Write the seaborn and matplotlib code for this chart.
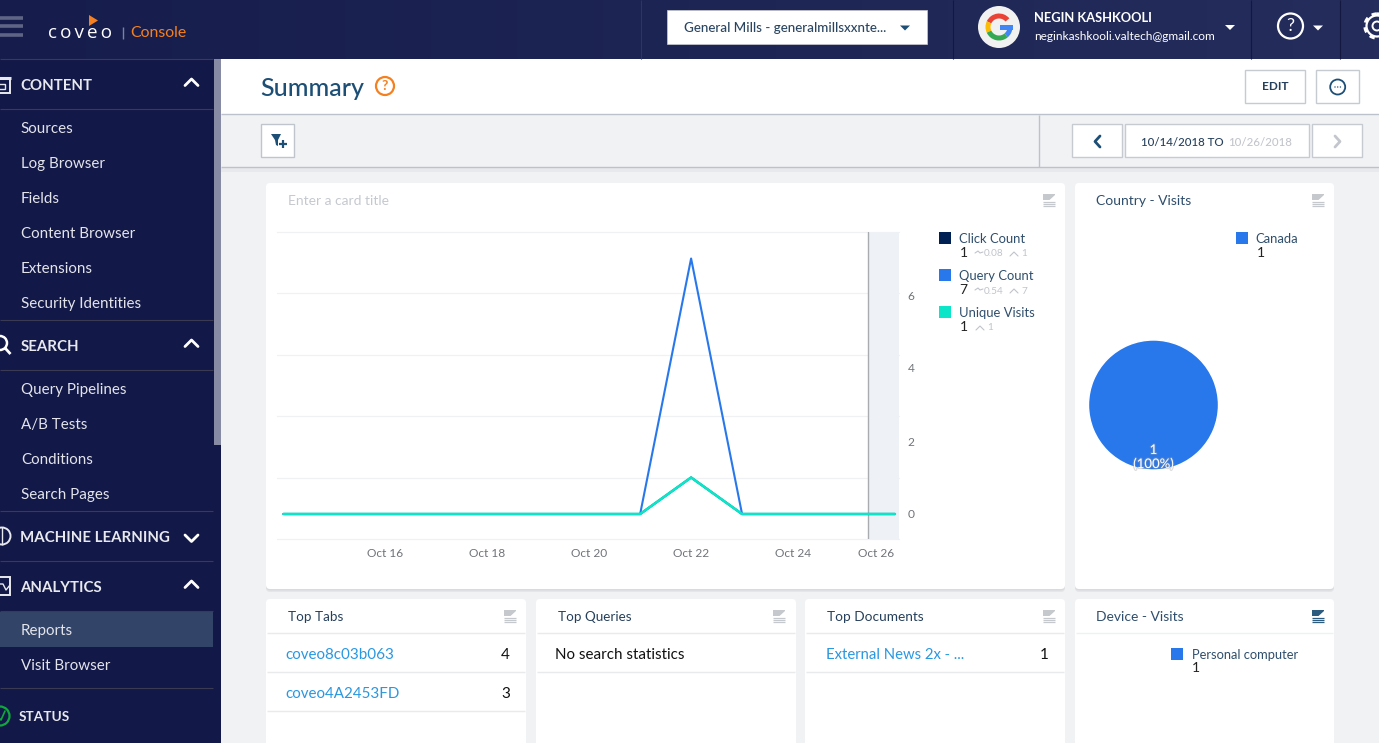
import matplotlib
matplotlib.use('Agg')
import matplotlib.pyplot as plt
import matplotlib.dates as mdates
import matplotlib.patheffects as pe
import numpy as np
import pandas as pd
import seaborn as sns
from matplotlib.patches import Rectangle, FancyBboxPatch, Circle, Wedge, Polygon

# chart data
dates = pd.date_range('2018-10-14', '2018-10-26', freq='D')
click_count = [0, 0, 0, 0, 0, 0, 0, 0, 1, 0, 0, 0, 0]
query_count = [0, 0, 0, 0, 0, 0, 0, 0, 7, 0, 0, 0, 0]
unique_visits = [0, 0, 0, 0, 0, 0, 0, 0, 1, 0, 0, 0, 0]
y_ticks = [0, 2, 4, 6]
x_tick_dates = ['2018-10-16', '2018-10-18', '2018-10-20', '2018-10-22', '2018-10-24', '2018-10-25 15:00']
x_tick_labels = ['Oct 16', 'Oct 18', 'Oct 20', 'Oct 22', 'Oct 24', 'Oct 26']
country_visits = [1]

# page text
content_items = ['Sources', 'Log Browser', 'Fields', 'Content Browser', 'Extensions', 'Security Identities']
search_items = ['Query Pipelines', 'A/B Tests', 'Conditions', 'Search Pages']
analytics_items = ['Reports', 'Visit Browser']

NAVY = '#121848'
BLUE = '#2878ec'
TEAL = '#0ce5c8'
DARK = '#001f52'
TITLE = '#1d4f76'
LINK = '#2a97e0'
ORANGE = '#f58020'

sns.set_theme(style='white')
plt.rcParams['font.family'] = ['Lato', 'DejaVu Sans']

fig = plt.figure(figsize=(13.79, 7.43), dpi=100, facecolor='#f1f2f4')
page = fig.add_axes([0, 0, 1, 1])
page.set_xlim(0, 1379)
page.set_ylim(743, 0)
page.axis('off')


def txt(x, y, s, size=11, color='#26405c', **kw):
    kw.setdefault('va', 'center')
    page.text(x, y + 1, s, fontsize=size, color=color, **kw)


def box(x0, y0, x1, y1, color, edge='none', lw=0, z=1):
    page.add_patch(Rectangle((x0, y0), x1 - x0, y1 - y0, facecolor=color, edgecolor=edge, lw=lw, zorder=z))


def seg(x0, y0, x1, y1, color, lw=1, z=3):
    page.plot([x0, x1], [y0, y1], color=color, lw=lw, zorder=z, solid_capstyle='butt')


def chevron(x, y, w, h, color, lw=2):
    page.plot([x - w, x, x + w], [y + h, y, y + h], color=color, lw=lw, zorder=4)


def card(x0, y0, x1, y1):
    for off, col in [(3, '#e4e6e9'), (1.5, '#d8dade')]:
        page.add_patch(FancyBboxPatch((x0, y0 + off), x1 - x0, y1 - y0, boxstyle='round,pad=0,rounding_size=4',
                                      fc=col, ec='none', zorder=1))
    page.add_patch(FancyBboxPatch((x0, y0), x1 - x0, y1 - y0, boxstyle='round,pad=0,rounding_size=4',
                                  fc='white', ec='none', zorder=1.2))


def chart_icon(x, y, color='#c5c8cd'):
    box(x, y, x + 12, y + 6, color, z=3)
    page.add_patch(Polygon([(x + 6, y + 6.5), (x + 12, y + 1), (x + 12, y + 6.5)], fc='white', ec='none', zorder=3.2))
    for dy in [7.5, 9.5, 11.5]:
        seg(x, y + dy, x + 12, y + dy, color, lw=0.9)


def triangle(x, y, w, h, color):
    page.add_patch(Polygon([(x - w, y), (x + w, y), (x, y + h)], fc=color, ec='none', zorder=4))


# header band, lighter to the right
grad = np.linspace(0, 1, 256).reshape(1, -1)
cmap = matplotlib.colors.LinearSegmentedColormap.from_list('hdr', ['#161d4c', '#242d5c'])
page.imshow(grad, extent=(0, 1379, 59, 0), cmap=cmap, aspect='auto', zorder=0.5)
page.set_xlim(0, 1379)
page.set_ylim(743, 0)

# sidebar
box(0, 59, 221, 743, NAVY, z=1)
box(214, 59, 221, 445, '#878ba3', z=2)
box(0, 612, 213, 647, '#324468', z=2)
for ly in [59, 109, 320, 370, 511, 561, 611, 688]:
    seg(0, ly, 213, ly, '#3a3b52', lw=0.8)
txt(20.5, 85, 'CONTENT', 10.8, '#e8e9ee', fontweight='bold')
txt(20.5, 346, 'SEARCH', 10.8, '#e8e9ee', fontweight='bold')
txt(20.5, 537, 'MACHINE LEARNING', 10.8, '#e8e9ee', fontweight='bold')
txt(20.5, 587, 'ANALYTICS', 10.8, '#e8e9ee', fontweight='bold')
txt(18.5, 716, 'STATUS', 9.8, '#e8e9ee', fontweight='bold')
for i, s in enumerate(content_items):
    txt(20.8, 128 + i * 35, s, 10.9, '#e3e4ea')
for i, s in enumerate(search_items):
    txt(20.8, 389 + i * 35, s, 10.9, '#e3e4ea')
for i, s in enumerate(analytics_items):
    txt(20.8, 629.5 + i * 35, s, 10.9, '#e3e4ea')
chevron(191.5, 79, 6.5, 6.5, 'white')
chevron(191.5, 340, 6.5, 6.5, 'white')
chevron(191.5, 581, 6.5, 6.5, 'white')
page.plot([185, 191.5, 198], [535, 541.5, 535], color='white', lw=2, zorder=4)

# sidebar icons, cut by the left edge
box(-3, 78, 10, 93, 'none', edge='#e8e9ee', lw=1.4, z=4)
seg(-3, 78, 11, 78, '#e8e9ee', lw=2.2)
box(-3, 84, 5, 89, 'none', edge='#e8e9ee', lw=1, z=4)
page.add_patch(Circle((0, 343), 7, fc='none', ec='white', lw=1.8, zorder=4))
seg(5, 348, 10.5, 354, 'white', lw=2)
page.add_patch(Circle((2, 536), 8.5, fc='none', ec='#e8e9ee', lw=1.4, zorder=4))
seg(2, 527, 2, 545, '#e8e9ee', lw=1)
box(-3, 577, 10, 595, 'none', edge='#e8e9ee', lw=1.4, z=4)
page.plot([-1, 3, 6, 10], [584, 584, 590, 585], color='#e8e9ee', lw=1, zorder=4)
page.add_patch(Circle((0, 716), 9.5, fc='none', ec='#10a83c', lw=1.6, zorder=4))
page.plot([-3, 1, 5], [716, 720, 711], color='#10a83c', lw=1.2, zorder=4)

# top bar
for hy in [17.5, 26, 34.5]:
    seg(0, hy, 23, hy, '#5e6484', lw=2.6)
txt(47.5, 32, 'c\u2009o\u2009v\u2009e\u2009o', 13.6, 'white', fontfamily=['Open Sans', 'DejaVu Sans'])
page.add_patch(Polygon([(89, 15), (98, 20.5), (89, 26)], fc=ORANGE, ec='none', zorder=4))
seg(122.5, 27, 122.5, 39, '#7d819d', lw=1)
txt(130.5, 32, 'Console', 11.4, ORANGE)

box(667, 10, 927, 44, 'white', edge='#c9ccd2', lw=0.5, z=3)
txt(684, 26.5, 'General Mills - generalmillsxxnte...', 9.65, '#2a4560', fontweight='medium', zorder=4)
triangle(905, 25.5, 5, 5, TITLE)
seg(641, 0, 641, 59, '#2d3565', lw=0.8)
seg(952.5, 0, 952.5, 59, '#12183f', lw=0.8)
seg(1251, 0, 1251, 59, '#12183f', lw=0.8)
seg(1340, 0, 1340, 59, '#12183f', lw=0.8)

# google badge, angles run clockwise because the page y axis points down
page.add_patch(Circle((999, 27), 21, fc='#f1f1f1', ec='none', zorder=3))
for t0, t1, col in [(205, 320, '#ea4335'), (155, 205, '#fbbc05'), (50, 155, '#34a853'), (0, 50, '#4285f4')]:
    page.add_patch(Wedge((999, 27), 13.5, t0, t1, width=5, fc=col, ec='none', zorder=4))
box(999.5, 24.5, 1012.5, 29.5, '#4285f4', z=4.2)
txt(1034, 17, 'NEGIN KASHKOOLI', 9.3, 'white', fontweight='bold')
txt(1034, 35, 'neginkashkooli.valtech@gmail.com', 8.57, 'white')
triangle(1230, 25, 5, 5, 'white')
page.add_patch(Circle((1290.5, 26), 12.5, fc='none', ec='white', lw=1.6, zorder=4))
txt(1290.5, 25, '?', 13, 'white', ha='center', zorder=5)
triangle(1318, 25.5, 5, 5, 'white')
page.add_patch(Circle((1377, 26), 10.5, fc='none', ec='white', lw=1.6, zorder=4))
page.add_patch(Circle((1377, 26), 12, fc='none', ec='white', lw=2.4, ls=(0, (1.6, 1.4)), zorder=4))
page.add_patch(Circle((1377, 26), 4.5, fc='none', ec='white', lw=1.4, zorder=4))

# title bar
box(221, 59, 1379, 114, 'white', z=1)
seg(221, 114, 1379, 114, '#bcc2cb', lw=1)
txt(260.5, 87, 'Summary', 18, TITLE, fontweight='medium')
page.add_patch(Circle((385, 86), 9, fc='none', ec=ORANGE, lw=1.6, zorder=4))
txt(385, 85, '?', 10, ORANGE, ha='center', fontweight='bold', zorder=5)
box(1245, 70, 1305, 103, 'white', edge='#c6cbd2', lw=1, z=3)
txt(1275, 86, 'EDIT', 8.5, '#26405c', ha='center', fontweight='bold', zorder=4)
box(1316, 70, 1358.5, 103, 'white', edge='#c6cbd2', lw=1, z=3)
page.add_patch(Circle((1337.7, 87), 7.5, fc='none', ec=TITLE, lw=1.3, zorder=4))
for dot_x in [1335, 1337.7, 1340.4]:
    page.add_patch(Circle((dot_x, 87), 0.7, fc=TITLE, ec='none', zorder=5))

# filter bar
box(221, 115, 1379, 167, '#f1f2f4', z=1)
seg(221, 167, 1379, 167, '#bcc2cb', lw=1)
box(221, 168, 1379, 172, '#e8e9ec', z=1)
seg(1039, 115, 1039, 167, '#bcc2cb', lw=1)
box(261, 124, 294, 157, 'white', edge='#c0c5cd', lw=1, z=3)
page.add_patch(Polygon([(271, 134), (281, 134), (278, 140), (278, 146), (276, 145), (275, 140)], fc=TITLE, ec='none', zorder=4))
seg(279, 144, 287, 144, TITLE, lw=1.6, z=4)
seg(283, 140, 283, 148, TITLE, lw=1.6, z=4)
for bx0, bx1 in [(1072, 1121.5), (1125, 1308.5), (1312, 1361.5)]:
    box(bx0, 124, bx1, 157, 'white', edge='#c6cbd2', lw=1, z=3)
page.plot([1100, 1095, 1100], [136, 141.5, 147], color=TITLE, lw=2, zorder=4)
page.plot([1335, 1340, 1335], [136, 141.5, 147], color='#c3c7cd', lw=2, zorder=4)
page.text(1141, 142, '10/14/2018 TO', fontsize=8.3, color='#26405c', va='center', zorder=4, fontweight='medium')
page.text(1228.5, 142, '10/26/2018', fontsize=8.3, color='#c2c6cc', va='center', zorder=4, fontweight='medium')

# cards
card(266, 183, 1065, 589)
card(1075, 183, 1334, 589)
for cx0, cx1 in [(266, 526), (536, 796), (805, 1065), (1075, 1334)]:
    card(cx0, 599, cx1, 760)
txt(288, 200, 'Enter a card title', 10, '#c5c9cf', zorder=4)
txt(1096, 200, 'Country - Visits', 10, '#2f4e6c', zorder=4)
txt(288, 616, 'Top Tabs', 9.7, '#26405c', zorder=4)
txt(558, 616, 'Top Queries', 9.7, '#26405c', zorder=4)
txt(827, 616, 'Top Documents', 9.8, '#26405c', zorder=4)
txt(1096, 616, 'Device - Visits', 10, '#2f4e6c', zorder=4)
for ix in [1043, 1312]:
    chart_icon(ix, 194)
for ix in [504, 773, 1043]:
    chart_icon(ix, 610)
chart_icon(1312, 610, '#2b5c80')

for cx0, cx1, rows in [(266, 526, [633, 672, 711]), (536, 796, [633, 672]), (805, 1065, [633, 672])]:
    for ry in rows:
        seg(cx0 + 1, ry, cx1 - 1, ry, '#e8eaec', lw=1, z=3)
seg(1076, 633, 1333, 633, '#eef0f1', lw=1, z=3)

txt(285.5, 654, 'coveo8c03b063', 10.9, LINK, zorder=4)
txt(510, 654, '4', 11, '#111111', ha='right', zorder=4)
txt(285.5, 693, 'coveo4A2453FD', 10.9, LINK, zorder=4)
txt(510, 693, '3', 11, '#111111', ha='right', zorder=4)
txt(555, 654, 'No search statistics', 10.9, '#111111', zorder=4)
txt(825.5, 654, 'External News 2x - ...', 10.75, LINK, zorder=4)
txt(1049, 654, '1', 11, '#111111', ha='right', zorder=4)

# legend of the line card
legend_rows = [('Click Count', '1', DARK, 238, ['0.08', '1']), ('Query Count', '7', BLUE, 275, ['0.54', '7']),
               ('Unique Visits', '1', TEAL, 312, ['1'])]
for name, val, col, ly, stats in legend_rows:
    box(939, ly - 6, 951, ly + 6, col, z=4)
    txt(959, ly, name, 9.4, '#2f4e6c', zorder=4)
    txt(959.5, ly + 14, val, 10, '#222222', zorder=4)
    if len(stats) == 2:
        txt(984, ly + 15, stats[0], 7.2, '#c0c4ca', zorder=4)
        page.plot([975, 978, 980, 983], [ly + 15, ly + 13, ly + 15, ly + 14], color='#c0c4ca', lw=0.8, zorder=4)
        page.plot([1010, 1014, 1018], [ly + 18, ly + 14, ly + 18], color='#c0c4ca', lw=0.8, zorder=4)
        txt(1021, ly + 15, stats[1], 7.2, '#c0c4ca', zorder=4)
    else:
        page.plot([976, 980, 984], [ly + 18, ly + 14, ly + 18], color='#c0c4ca', lw=0.8, zorder=4)
        txt(987, ly + 15, stats[0], 7.2, '#c0c4ca', zorder=4)

# country and device legends
box(1236, 232, 1248, 244, BLUE, z=4)
txt(1255.5, 238, 'Canada', 9.4, '#2f4e6c', zorder=4)
txt(1256.5, 252, '1', 10, '#222222', zorder=4)
box(1171, 648, 1183, 660, BLUE, z=4)
txt(1191.5, 654, 'Personal computer', 9.3, '#2f4e6c', zorder=4)
txt(1191.5, 667, '1', 10, '#222222', zorder=4)

# line chart, axes placed over the card in figure fractions
W, H = 1379.0, 743.0
PX_DAY = 50.95
ax = fig.add_axes([277 / W, 1 - 539 / H, (899 - 277) / W, (539 - 232) / H], facecolor='none')
df = pd.DataFrame({'date': list(dates) * 3,
                   'value': click_count + query_count + unique_visits,
                   'metric': ['Click Count'] * 13 + ['Query Count'] * 13 + ['Unique Visits'] * 13})
sns.lineplot(data=df, x='date', y='value', hue='metric', palette=[DARK, BLUE, TEAL], linewidth=1.5,
             legend=False, errorbar=None, ax=ax)
ax.lines[2].set_linewidth(1.9)
x_left = mdates.date2num(pd.Timestamp('2018-10-14')) - 6.5 / PX_DAY
x_right = x_left + (899 - 277) / PX_DAY
ax.set_xlim(x_left, x_right)
ylim = (-25 / 36.5, 282 / 36.5)
ax.set_ylim(ylim)
ax.set_xlabel('')
ax.set_ylabel('')
ax.set_xticks(mdates.date2num(pd.to_datetime(x_tick_dates, format='mixed')))
ax.set_xticklabels(x_tick_labels)
ax.yaxis.tick_right()
ax.set_yticks(y_ticks)
ax.tick_params(axis='both', length=0, labelsize=8.6, labelcolor='#6f7378')
ax.tick_params(axis='x', pad=6.6)
ax.tick_params(axis='y', pad=6)
for gy in np.linspace(ylim[0], ylim[1], 6):
    ax.axhline(gy, color='#f0f1f3', lw=0.9, zorder=0, clip_on=False)
shade_from = x_left + (868 - 277) / PX_DAY
ax.axvspan(shade_from, x_right, color='#eef1f5', lw=0, zorder=0.5)
ax.axvline(shade_from, color='#a8abb0', lw=1, zorder=1)
sns.despine(ax=ax, left=True, right=True, top=True, bottom=True)

# pie
pie_ax = fig.add_axes([(1153.5 - 66) / W, 1 - (405 + 66) / H, 132 / W, 132 / H])
pie_ax.pie(country_visits, colors=[BLUE], radius=65 / 66, startangle=90)
pie_ax.set_xlim(-1, 1)
pie_ax.set_ylim(-1, 1)
halo = [pe.withStroke(linewidth=1.6, foreground='#9a9a9a', alpha=0.35)]
pie_ax.text(0, -0.68, '1', fontsize=9.5, color='white', ha='center', va='center', path_effects=halo, clip_on=False)
pie_ax.text(0, -0.89, '(100%)', fontsize=9.5, color='white', ha='center', va='center', path_effects=halo, clip_on=False)

fig.savefig('out.png', dpi=100, facecolor=fig.get_facecolor())
